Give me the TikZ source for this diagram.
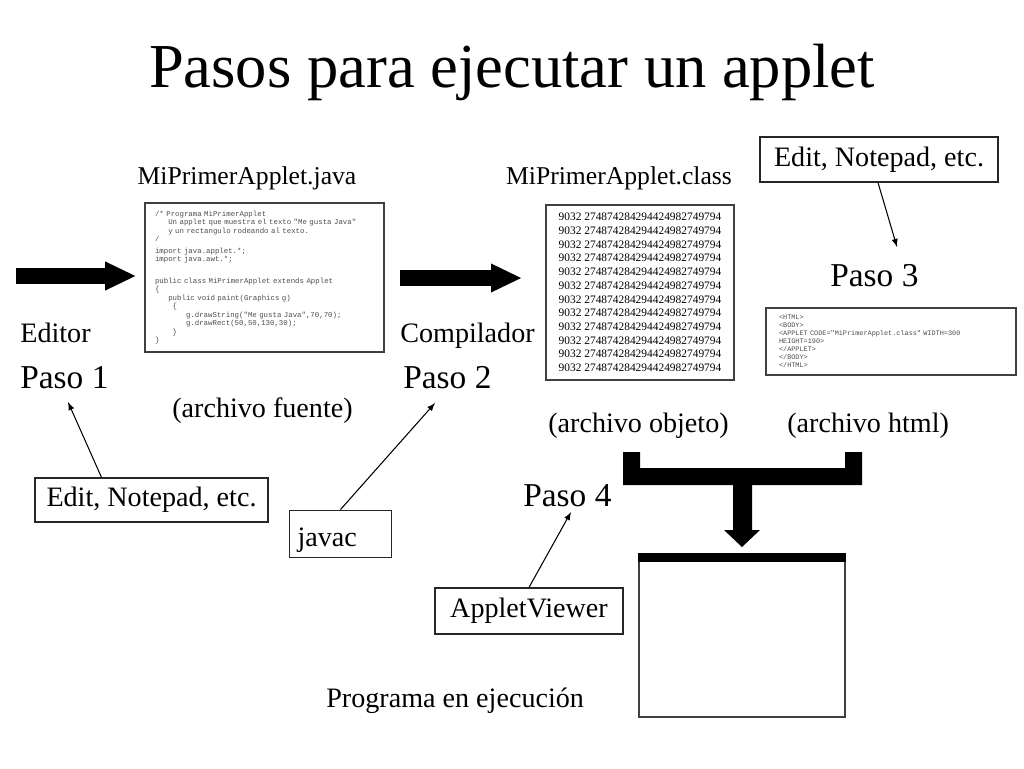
\documentclass[tikz,border=0pt]{standalone}
\usepackage{fontspec}
\setmainfont{Liberation Serif}
\setmonofont{Liberation Mono}
\usetikzlibrary{arrows.meta}

\begin{document}
\begin{tikzpicture}[x=0.02cm,y=-0.02cm]
		\tikzstyle{texto} = [inner sep=0pt,anchor=base west,font=\fontsize{16}{19}\selectfont]
		\tikzstyle{nombre} = [inner sep=0pt,anchor=base,font=\fontsize{14.6}{17}\selectfont]
		\tikzstyle{paso} = [inner sep=0pt,anchor=base west,font=\fontsize{19}{23}\selectfont]
		\tikzstyle{caja} = [draw=black!85,line width=0.7pt,font=\fontsize{16}{19}\selectfont]
		\tikzstyle{listado} = [draw=black!75,line width=0.9pt,align=left,text=black!70]
		\tikzstyle{fina} = [->,>=latex,line width=0.6pt]
		\tikzstyle{gruesa} = [-{Triangle[width=0.53cm,length=0.62cm]},line width=0.31cm]
		
		\useasboundingbox (0,0) rectangle (1024,768);
		
		\node[inner sep=0pt,anchor=base,font=\fontsize{35.6}{40}\selectfont](titulo) at (512,87) {Pasos para ejecutar un applet};
		
		% paso 1 y 2
		\node[nombre](java) at (247,184) {MiPrimerApplet.java};
		\node[nombre](clase) at (619,184) {MiPrimerApplet.class};
		
		\node[listado,minimum width=4.78cm,minimum height=2.98cm,inner xsep=0.2cm,text width=4.38cm,
			font=\ttfamily\fontsize{4.2}{4.8}\selectfont](fuente) at (264.5,277.5) {%
			/* Programa MiPrimerApplet\\
			\phantom{xxx}Un applet que muestra el texto "Me gusta Java"\\
			\phantom{xxx}y un rectangulo rodeando al texto.\\
			*/\\[1.9pt]
			import java.applet.*;\\
			import java.awt.*;\\[7.6pt]
			public class MiPrimerApplet extends Applet\\
			\{\\
			\phantom{xxx}public void paint(Graphics g)\\
			\phantom{xxxx}\{\\
			\phantom{xxxxxxx}g.drawString("Me gusta Java",70,70);\\
			\phantom{xxxxxxx}g.drawRect(50,50,130,30);\\
			\phantom{xxxx}\}\\
			\}};
		
		\node[listado,text=black,minimum width=3.76cm,minimum height=3.5cm,inner sep=0pt,
			font=\fontsize{6.5}{7.8}\selectfont](objeto) at (640,292.5) {%
			9032 274874284294424982749794\\
			9032 274874284294424982749794\\
			9032 274874284294424982749794\\
			9032 274874284294424982749794\\
			9032 274874284294424982749794\\
			9032 274874284294424982749794\\
			9032 274874284294424982749794\\
			9032 274874284294424982749794\\
			9032 274874284294424982749794\\
			9032 274874284294424982749794\\
			9032 274874284294424982749794\\
			9032 274874284294424982749794};
		
		\node[listado,minimum width=5cm,minimum height=1.34cm,inner xsep=0.26cm,text width=4.48cm,
			font=\ttfamily\fontsize{3.9}{4.55}\selectfont](html) at (891,341.5) {%
			<HTML>\\
			<BODY>\\
			<APPLET CODE="MiPrimerApplet.class" WIDTH=300\\
			HEIGHT=190>\\
			</APPLET>\\
			</BODY>\\
			</HTML>};
		
		\coordinate (ini1) at (16,276);
		\coordinate (ini2) at (400,278);
		\coordinate (fin2) at (522,278);
		\draw[gruesa,shorten >=0.16cm] (ini1) -- (fuente.west |- ini1);
		\draw[gruesa] (ini2) -- (fin2);
		
		\node[texto](editor) at (20,342) {Editor};
		\node[texto](compilador) at (400,342) {Compilador};
		\node[paso](paso1) at (20,388) {Paso 1};
		\node[paso](paso2) at (403,388) {Paso 2};
		\node[paso](paso3) at (830,286) {Paso 3};
		\node[paso](paso4) at (523,506) {Paso 4};
		\node[texto](afuente) at (172,417) {(archivo fuente)};
		\node[texto](aobjeto) at (548,432) {(archivo objeto)};
		\node[texto](ahtml) at (787,432) {(archivo html)};
		\node[texto](ejecucion) at (326,707) {Programa en ejecución};
		
		% herramientas
		\node[caja,minimum width=4.66cm,minimum height=0.88cm](edit1) at (151.5,500) {Edit, Notepad, etc.};
		\node[caja,minimum width=4.76cm,minimum height=0.9cm](edit2) at (879,159.5) {Edit, Notepad, etc.};
		\node[caja,minimum width=2.04cm,minimum height=0.92cm,text height=0.6cm,text depth=0.12cm]
			(javac) at (340.5,534) {\makebox[1.72cm][l]{javac}};
		\node[caja,minimum width=3.76cm,minimum height=0.92cm](viewer) at (529,611) {AppletViewer};
		
		\coordinate (p1) at (68,402);
		\coordinate (p2) at (435,403);
		\coordinate (p3) at (897,247);
		\coordinate (p4) at (571,512);
		\draw[fina] ([xshift=-1cm]edit1.north) -- (p1);
		\draw[fina] (javac.north) -- (p2);
		\draw[fina] ([xshift=-0.02cm]edit2.south) -- (p3);
		\draw[fina] (viewer.north) -- (p4);
		
		% paso 4
		\fill (623,452) -- (640,452) -- (640,468) -- (845,468) -- (845,452) -- (862,452) -- (862,485)
			-- (752,485) -- (752,530) -- (760,530) -- (742,547) -- (724,530) -- (733,530) -- (733,485)
			-- (623,485) -- cycle;
		\node[draw=black!75,line width=0.7pt,minimum width=4.12cm,minimum height=3.26cm,inner sep=0pt](ventana) at (742,635.5) {};
		\fill (ventana.north west) rectangle ([yshift=-0.18cm]ventana.north east);
		
		\end{tikzpicture}
\end{document}
